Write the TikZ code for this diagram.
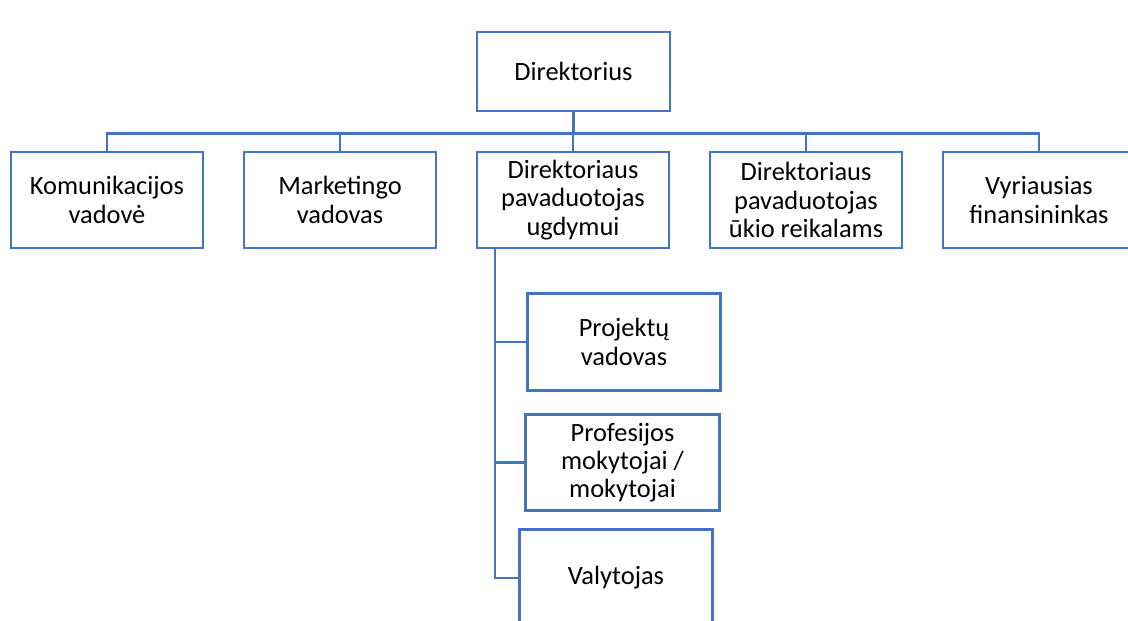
\documentclass[tikz,border=0pt]{standalone}
\usepackage{fontspec}
\setmainfont{Carlito}
\usepackage{tikz}

\definecolor{orgblue}{HTML}{4472C4}

\begin{document}
\begin{tikzpicture}[node distance=174.75pt]
        \tikzstyle{unit} = [draw=orgblue, line width=2.1pt, fill=white, align=center, inner sep=0pt,
            font=\fontsize{19.8}{21.2}\selectfont];
        \tikzstyle{head} = [unit, minimum width=144.75pt, minimum height=59.25pt];
        \tikzstyle{dept} = [unit, minimum width=144pt, minimum height=72pt];
        \tikzstyle{staff} = [unit, minimum width=145pt, minimum height=72.5pt];
        \tikzstyle{link} = [draw=orgblue, line width=2.1pt];

        \useasboundingbox (0,0) rectangle (846pt,-465.75pt);

        \node [head] (dir) at (430.1pt,-53.6pt) {Direktorius};

        \node [dept] (kom) at (80.25pt,-150pt) {Komunikacijos\\vadovė};
        \node [dept, right of=kom] (mark) {Marketingo\\vadovas};
        \node [dept, right of=mark] (ugd) {Direktoriaus\\pavaduotojas\\ugdymui};
        \node [dept, right of=ugd] (uk) {Direktoriaus\\pavaduotojas\\ūkio reikalams};
        \node [dept, right of=uk] (fin) {Vyriausias\\finansininkas};

        \node [staff] (proj) at (468pt,-256.5pt) {Projektų\\vadovas};
        \node [staff] (prof) at (466.9pt,-346.9pt) {Profesijos\\mokytojai /\\mokytojai};
        \node [staff] (valyt) at (462pt,-433.5pt) {Valytojas};

        % bus under the director
        \path (dir.south) ++(0,-15.75pt) coordinate (bus);
        \draw [link] (dir.south) -- (bus);
        \foreach \n in {kom,mark,ugd,uk,fin}
            \draw [link] (bus) -| (\n.north);

        % staff under the deputy
        \coordinate (trunk) at ([xshift=14.6pt]ugd.south west);
        \foreach \n in {proj,prof,valyt}
            \draw [link] (trunk) |- (\n.west);
    \end{tikzpicture}
\end{document}
